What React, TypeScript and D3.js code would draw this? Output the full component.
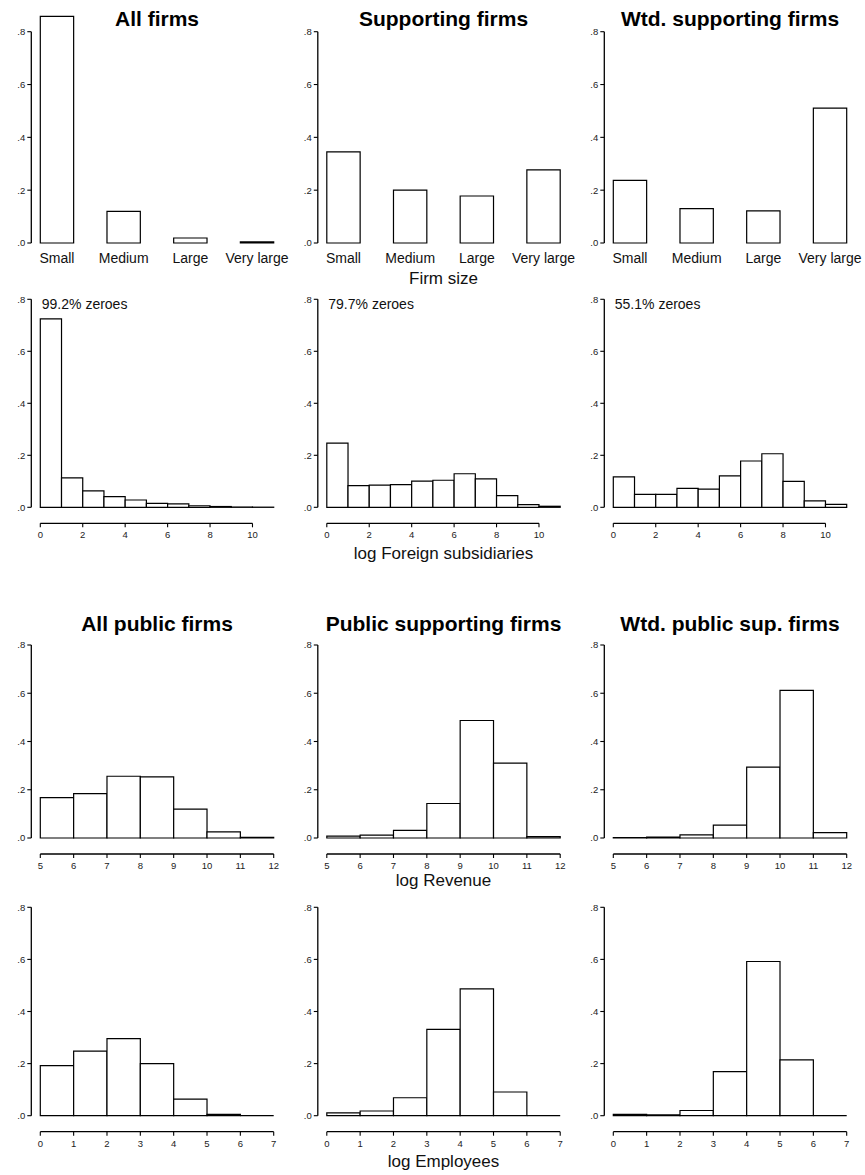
import * as d3 from "d3";

// ---- data ----
const sizeCategories = ["Small", "Medium", "Large", "Very large"];
const sizeAll = [0.858, 0.12, 0.019, 0.004];
const sizeSupporting = [0.345, 0.2, 0.178, 0.277];
const sizeWeighted = [0.237, 0.13, 0.122, 0.511];

const foreignAll = [0.725, 0.113, 0.063, 0.041, 0.028, 0.015, 0.013, 0.006, 0.003, 0.001, 0.0005];
const foreignSupporting = [0.247, 0.083, 0.085, 0.087, 0.101, 0.104, 0.129, 0.109, 0.045, 0.01, 0.004];
const foreignWeighted = [0.117, 0.05, 0.05, 0.073, 0.07, 0.121, 0.178, 0.206, 0.1, 0.025, 0.011];
const foreignZeroes = ["99.2% zeroes", "79.7% zeroes", "55.1% zeroes"];
const foreignTicks = [0, 2, 4, 6, 8, 10];

const revenueAll = [0.167, 0.184, 0.256, 0.253, 0.12, 0.025, 0.003];
const revenueSupporting = [0.008, 0.012, 0.032, 0.143, 0.487, 0.31, 0.006];
const revenueWeighted = [0.002, 0.004, 0.013, 0.053, 0.294, 0.612, 0.022];
const revenueTicks = [5, 6, 7, 8, 9, 10, 11, 12];

const employeesAll = [0.192, 0.248, 0.296, 0.2, 0.064, 0.005, 0];
const employeesSupporting = [0.011, 0.018, 0.069, 0.331, 0.487, 0.091, 0];
const employeesWeighted = [0.005, 0.003, 0.02, 0.169, 0.592, 0.214, 0];
const employeesTicks = [0, 1, 2, 3, 4, 5, 6, 7];

const yTicks = [0, 0.2, 0.4, 0.6, 0.8];
const topTitles = ["All firms", "Supporting firms", "Wtd. supporting firms"];
const bottomTitles = ["All public firms", "Public supporting firms", "Wtd. public sup. firms"];

// ---- layout ----
const FONT = "'Liberation Sans', Arial, Helvetica, sans-serif";
const W = 865;
const H = 1175;
const panelLeft = [40.3, 326.8, 613.3];
const plotWidth = 233.4;
const fmtY = (v: number) => v.toFixed(1).replace(/^0/, "");

function YAxis({ x, y }: { x: number; y: d3.ScaleLinear<number, number> }) {
  return (
    <g>
      <line x1={x} x2={x} y1={y(0.8)} y2={y(0)} stroke="#000" strokeWidth={1.3} />
      {yTicks.map((t) => (
        <g key={t}>
          <line x1={x - 4} x2={x} y1={y(t)} y2={y(t)} stroke="#000" strokeWidth={1.1} />
          <text x={x - 6} y={y(t)} dy="0.35em" textAnchor="end" fontSize={9.5} fill="#222">
            {fmtY(t)}
          </text>
        </g>
      ))}
    </g>
  );
}

function BarPanel({ left, top, bottom, values }: { left: number; top: number; bottom: number; values: number[] }) {
  const y = d3.scaleLinear().domain([0, 0.8]).range([bottom, top]);
  const x = d3
    .scaleBand<string>()
    .domain(sizeCategories)
    .range([left, left + plotWidth])
    .paddingInner(0.5)
    .paddingOuter(0);
  return (
    <g>
      <YAxis x={left - 9} y={y} />
      {values.map((v, i) => {
        const c = sizeCategories[i];
        const x0 = x(c)!;
        const x1 = x0 + x.bandwidth();
        return (
          <path
            key={c}
            d={`M${x0},${y(0)}V${y(v)}H${x1}V${y(0)}Z`}
            fill="#fff"
            stroke="#000"
            strokeWidth={1.2}
          />
        );
      })}
      {sizeCategories.map((c) => (
        <text key={c} x={x(c)! + x.bandwidth() / 2} y={bottom + 20} textAnchor="middle" fontSize={14} fill="#111">
          {c}
        </text>
      ))}
    </g>
  );
}

function HistPanel({
  left,
  top,
  bottom,
  start,
  values,
  ticks,
  note,
}: {
  left: number;
  top: number;
  bottom: number;
  start: number;
  values: number[];
  ticks: number[];
  note?: string;
}) {
  const y = d3.scaleLinear().domain([0, 0.8]).range([bottom, top]);
  const x = d3
    .scaleLinear()
    .domain([start, start + values.length])
    .range([left, left + plotWidth]);
  const axisY = bottom + 16;
  return (
    <g>
      <YAxis x={left - 9} y={y} />
      {values.map((v, i) => (
        <path
          key={i}
          d={`M${x(start + i)},${y(0)}V${y(v)}H${x(start + i + 1)}V${y(0)}Z`}
          fill="#fff"
          stroke="#000"
          strokeWidth={1.2}
        />
      ))}
      {note && (
        <text x={left + 1.5} y={top + 10} fontSize={14} fill="#111">
          {note}
        </text>
      )}
      <line
        x1={x(ticks[0])}
        x2={x(ticks[ticks.length - 1])}
        y1={axisY}
        y2={axisY}
        stroke="#000"
        strokeWidth={1.3}
      />
      {ticks.map((t) => (
        <g key={t}>
          <line x1={x(t)} x2={x(t)} y1={axisY} y2={axisY + 4} stroke="#000" strokeWidth={1.1} />
          <text x={x(t)} y={axisY + 15} textAnchor="middle" fontSize={9.5} fill="#222">
            {t}
          </text>
        </g>
      ))}
    </g>
  );
}

const centerX = panelLeft[1] + plotWidth / 2;

export default function App() {
  const sizeRows = [sizeAll, sizeSupporting, sizeWeighted];
  const foreignRows = [foreignAll, foreignSupporting, foreignWeighted];
  const revenueRows = [revenueAll, revenueSupporting, revenueWeighted];
  const employeeRows = [employeesAll, employeesSupporting, employeesWeighted];

  return (
    <svg
      width={W}
      height={H}
      viewBox={`0 0 ${W} ${H}`}
      style={{ position: "absolute", left: 0, top: 0, background: "#fff", fontFamily: FONT }}
    >
      {/* top block: firm size + foreign subsidiaries */}
      {topTitles.map((t, i) => (
        <text key={t} x={panelLeft[i] + plotWidth / 2} y={26} textAnchor="middle" fontSize={21} fontWeight="bold">
          {t}
        </text>
      ))}
      {sizeRows.map((vals, i) => (
        <BarPanel key={i} left={panelLeft[i]} top={31.7} bottom={243} values={vals} />
      ))}
      <text x={centerX} y={284} textAnchor="middle" fontSize={17} fill="#111">
        Firm size
      </text>

      {foreignRows.map((vals, i) => (
        <HistPanel
          key={i}
          left={panelLeft[i]}
          top={299.3}
          bottom={507.3}
          start={0}
          values={vals}
          ticks={foreignTicks}
          note={foreignZeroes[i]}
        />
      ))}
      <text x={centerX} y={559} textAnchor="middle" fontSize={17} fill="#111">
        log Foreign subsidiaries
      </text>

      {/* bottom block: public firms */}
      {bottomTitles.map((t, i) => (
        <text key={t} x={panelLeft[i] + plotWidth / 2} y={631} textAnchor="middle" fontSize={21} fontWeight="bold">
          {t}
        </text>
      ))}
      {revenueRows.map((vals, i) => (
        <HistPanel
          key={i}
          left={panelLeft[i]}
          top={645}
          bottom={838}
          start={5}
          values={vals}
          ticks={revenueTicks}
        />
      ))}
      <text x={centerX} y={886} textAnchor="middle" fontSize={17} fill="#111">
        log Revenue
      </text>

      {employeeRows.map((vals, i) => (
        <HistPanel
          key={i}
          left={panelLeft[i]}
          top={907.3}
          bottom={1115.7}
          start={0}
          values={vals}
          ticks={employeesTicks}
        />
      ))}
      <text x={centerX} y={1167} textAnchor="middle" fontSize={17} fill="#111">
        log Employees
      </text>
    </svg>
  );
}
